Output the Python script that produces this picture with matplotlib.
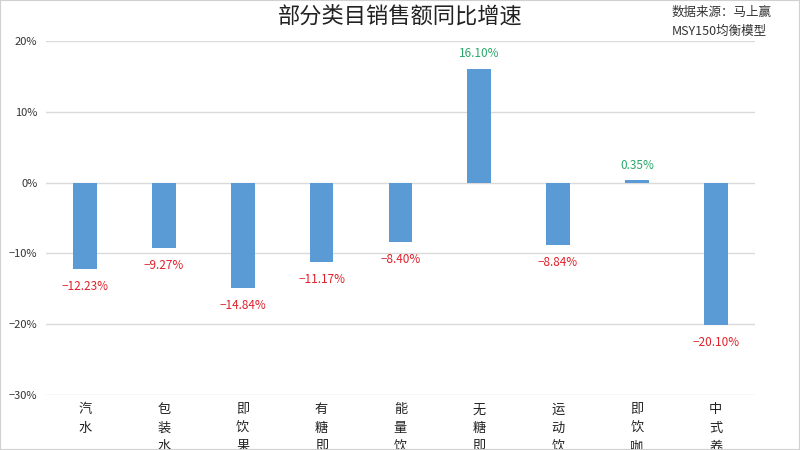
import matplotlib.pyplot as plt
from matplotlib.patches import Rectangle

plt.rcParams['font.family'] = ['Noto Sans CJK SC', 'DejaVu Sans']

categories = ["汽水", "包装水", "即饮果汁", "有糖即饮茶", "能量饮料",
              "无糖即饮茶", "运动饮料", "即饮咖啡", "中式养生水"]
growth = [-12.23, -9.27, -14.84, -11.17, -8.40, 16.10, -8.84, 0.35, -20.10]
yticks = [-30, -20, -10, 0, 10, 20]

fig = plt.figure(figsize=(8, 4.5), dpi=100)
ax = fig.add_axes([0.057, 0.122, 0.887, 0.787])

x = list(range(len(categories)))
ax.bar(x, growth, width=0.3, color="#5b9bd5", zorder=3)

for xi, v in zip(x, growth):
    if v < 0:
        ax.annotate(f"{v:.2f}%".replace("-", "−"), (xi, v), xytext=(0, -8),
                    textcoords="offset points", ha="center", va="top",
                    color="#e0202a", fontsize=8.5)
    else:
        ax.annotate(f"{v:.2f}%", (xi, v), xytext=(0, 6),
                    textcoords="offset points", ha="center", va="bottom",
                    color="#2aa86a", fontsize=8.5)

ax.set_xlim(-0.5, len(categories) - 0.5)
ax.set_ylim(-30, 20)
ax.set_yticks(yticks)
ax.set_yticklabels([f"{t}%".replace("-", "−") for t in yticks], fontsize=8, color="#333333")
ax.set_xticks(x)
ax.set_xticklabels(["\n".join(c) for c in categories], fontsize=9.5, va="top",
                   linespacing=1.55, color="#222222")
ax.tick_params(axis="both", length=0, pad=6)
ax.tick_params(axis="x", pad=6)
ax.grid(axis="y", color="#dadada", linewidth=1, zorder=0)
for s in ax.spines.values():
    s.set_visible(False)

fig.text(0.5, 0.965, "部分类目销售额同比增速", ha="center", va="center",
         fontsize=16, color="#222222")
fig.text(0.965, 0.972, "数据来源：马上赢", ha="right", va="center", fontsize=9, color="#333333")
fig.text(0.958, 0.93, "MSY150均衡模型", ha="right", va="center", fontsize=9, color="#333333")

fig.patches.append(Rectangle((0, 0), 1, 1, transform=fig.transFigure, fill=False,
                             edgecolor="#d0d0d0", linewidth=1.5))

fig.savefig("out.png", dpi=100)
plt.close(fig)
